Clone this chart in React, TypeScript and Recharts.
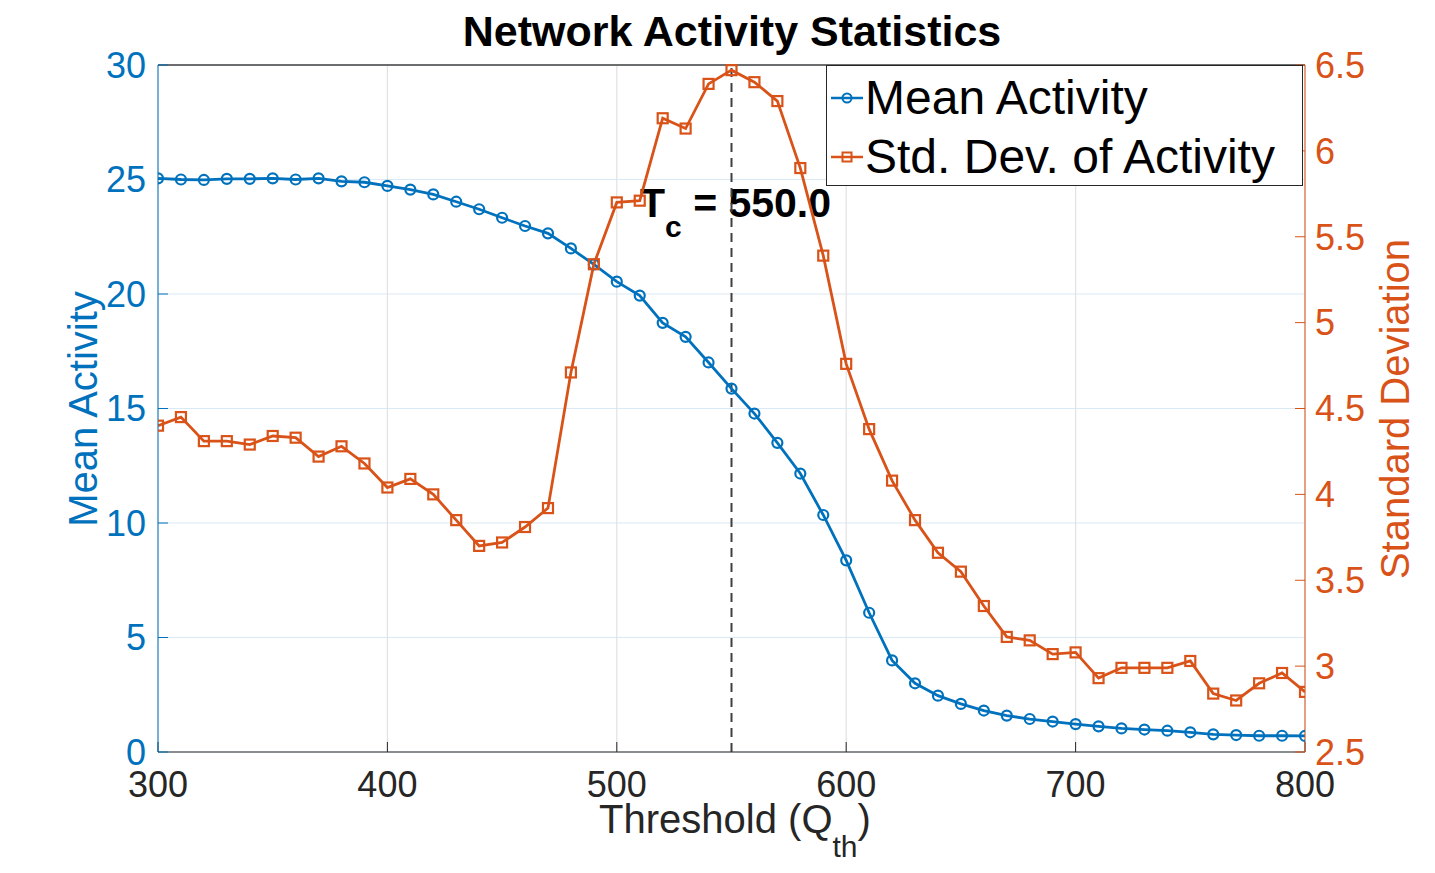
import React from 'react';
import {
  LineChart,
  Line,
  XAxis,
  YAxis,
  CartesianGrid,
  ReferenceLine,
  Legend,
  Customized,
} from 'recharts';

// threshold values (x)
const thresholds = [
  300, 310, 320, 330, 340, 350, 360, 370, 380, 390, 400, 410, 420, 430, 440, 450, 460,
  470, 480, 490, 500, 510, 520, 530, 540, 550, 560, 570, 580, 590, 600, 610, 620, 630,
  640, 650, 660, 670, 680, 690, 700, 710, 720, 730, 740, 750, 760, 770, 780, 790, 800,
];

// mean activity (left axis)
const meanActivity = [
  25.05, 25.0, 24.98, 25.03, 25.03, 25.05, 25.0, 25.05, 24.92, 24.88, 24.72, 24.56, 24.35,
  24.03, 23.7, 23.33, 22.97, 22.65, 21.99, 21.29, 20.54, 19.93, 18.74, 18.13, 17.01, 15.87,
  14.78, 13.5, 12.16, 10.35, 8.37, 6.08, 4.0, 3.0, 2.46, 2.1, 1.81, 1.59, 1.44, 1.33, 1.22,
  1.12, 1.03, 0.98, 0.93, 0.86, 0.77, 0.74, 0.71, 0.71, 0.7,
];

// std. dev. of activity (right axis)
const stdActivity = [
  4.4, 4.45, 4.31, 4.31, 4.29, 4.34, 4.33, 4.22, 4.28, 4.18, 4.04, 4.09, 4.0, 3.85, 3.7,
  3.72, 3.81, 3.92, 4.71, 5.34, 5.7, 5.71, 6.19, 6.13, 6.39, 6.47, 6.4, 6.29, 5.9, 5.39,
  4.76, 4.38, 4.08, 3.85, 3.66, 3.55, 3.35, 3.17, 3.15, 3.07, 3.08, 2.93, 2.99, 2.99, 2.99,
  3.03, 2.84, 2.8, 2.9, 2.96, 2.85,
];

const xTicks = [300, 400, 500, 600, 700, 800];
const leftTicks = [0, 5, 10, 15, 20, 25, 30];
const rightTicks = [2.5, 3, 3.5, 4, 4.5, 5, 5.5, 6, 6.5];
const criticalT = 550;

const data = thresholds.map((t, i) => ({ t, mean: meanActivity[i], std: stdActivity[i] }));

const BLUE = '#0072BD';
const ORANGE = '#D95319';
const DARK = '#262626';
const FONT = '"Liberation Sans", Arial, Helvetica, sans-serif';

const CircleDot = (props: any) => {
  const { cx, cy, index } = props;
  if (cx == null || cy == null) return <g key={`c-${index}`} />;
  return <circle key={`c-${index}`} cx={cx} cy={cy} r={5} fill="none" stroke={BLUE} strokeWidth={2.2} />;
};

const SquareDot = (props: any) => {
  const { cx, cy, index } = props;
  if (cx == null || cy == null) return <g key={`s-${index}`} />;
  return (
    <rect key={`s-${index}`} x={cx - 5} y={cy - 5} width={10} height={10} fill="none" stroke={ORANGE} strokeWidth={2.2} />
  );
};

const LegendBox = () => (
  <div
    style={{
      width: 477,
      height: 121,
      boxSizing: 'border-box',
      border: '1.5px solid #262626',
      background: '#fff',
      fontFamily: FONT,
      fontSize: 48,
      color: '#000',
      paddingTop: 2,
    }}
  >
    {[
      { label: 'Mean Activity', color: BLUE, shape: 'circle' },
      { label: 'Std. Dev. of Activity', color: ORANGE, shape: 'square' },
    ].map((e) => (
      <div key={e.label} style={{ height: 59, display: 'flex', alignItems: 'center', whiteSpace: 'nowrap' }}>
        <svg width={36} height={20} style={{ flex: 'none', marginLeft: 2 }}>
          <line x1={2} y1={10} x2={34} y2={10} stroke={e.color} strokeWidth={2.5} />
          {e.shape === 'circle' ? (
            <circle cx={18} cy={10} r={4.5} fill="none" stroke={e.color} strokeWidth={2} />
          ) : (
            <rect x={13.5} y={5.5} width={9} height={9} fill="none" stroke={e.color} strokeWidth={2} />
          )}
        </svg>
        <span style={{ lineHeight: 1 }}>{e.label}</span>
      </div>
    ))}
  </div>
);

const Annotations = () => (
  <g fontFamily={FONT}>
    <text x={732} y={46} textAnchor="middle" fontSize={43} fontWeight="bold" fill="#000">
      Network Activity Statistics
    </text>
    <text x={640} y={217} fontSize={41} fontWeight="bold" fill="#000">
      T
      <tspan dy={20} fontSize={30}>c</tspan>
      <tspan dy={-20}> = 550.0</tspan>
    </text>
    <text x={735} y={833} textAnchor="middle" fontSize={40} fill={DARK}>
      Threshold (Q
      <tspan dy={24} fontSize={30}>th</tspan>
      <tspan dy={-24}>)</tspan>
    </text>
    <text x={97} y={409} textAnchor="middle" fontSize={40} fill={BLUE} transform="rotate(-90 97 409)">
      Mean Activity
    </text>
    <text x={1409} y={409} textAnchor="middle" fontSize={40} fill={ORANGE} transform="rotate(-90 1409 409)">
      Standard Deviation
    </text>
  </g>
);

const App: React.FC = () => {
  return (
    <div style={{ position: 'absolute', left: 0, top: 0, width: 1435, height: 873, background: '#fff' }}>
      <LineChart
        width={1435}
        height={873}
        data={data}
        margin={{ top: 65, right: 30, bottom: 61, left: 58 }}
        style={{ fontFamily: FONT }}
      >
        <CartesianGrid yAxisId="left" vertical={false} stroke="#d9e9f5" strokeWidth={1.2} />
        <CartesianGrid yAxisId="left" horizontal={false} stroke="#e2e2e2" strokeWidth={1.2} />
        <XAxis
          dataKey="t"
          type="number"
          domain={[300, 800]}
          ticks={xTicks}
          allowDataOverflow
          height={60}
          stroke={DARK}
          tickSize={-10}
          tickMargin={29}
          tick={{ fill: DARK, fontSize: 36 }}
        />
        <YAxis
          yAxisId="left"
          domain={[0, 30]}
          ticks={leftTicks}
          width={100}
          stroke={BLUE}
          tickSize={-10}
          tickMargin={22}
          tick={{ fill: BLUE, fontSize: 36 }}
        />
        <YAxis
          yAxisId="right"
          orientation="right"
          domain={[2.5, 6.5]}
          ticks={rightTicks}
          width={100}
          stroke={ORANGE}
          tickSize={-10}
          tickMargin={20}
          tick={{ fill: ORANGE, fontSize: 36 }}
        />
        <ReferenceLine yAxisId="left" y={30} stroke="#404040" strokeWidth={1.5} />
        <ReferenceLine
          yAxisId="left"
          x={criticalT}
          stroke="#404040"
          strokeWidth={2}
          strokeDasharray="9 6"
        />
        <Line
          yAxisId="left"
          type="linear"
          dataKey="mean"
          stroke={BLUE}
          strokeWidth={2.8}
          dot={CircleDot}
          activeDot={false}
          isAnimationActive={false}
        />
        <Line
          yAxisId="right"
          type="linear"
          dataKey="std"
          stroke={ORANGE}
          strokeWidth={2.8}
          dot={SquareDot}
          activeDot={false}
          isAnimationActive={false}
        />
        <Legend
          layout="vertical"
          align="center"
          verticalAlign="middle"
          content={<LegendBox />}
          wrapperStyle={{ position: 'absolute', left: 826, top: 65, width: 477, height: 121 }}
        />
        <Customized component={Annotations} />
      </LineChart>
    </div>
  );
};

export default App;
